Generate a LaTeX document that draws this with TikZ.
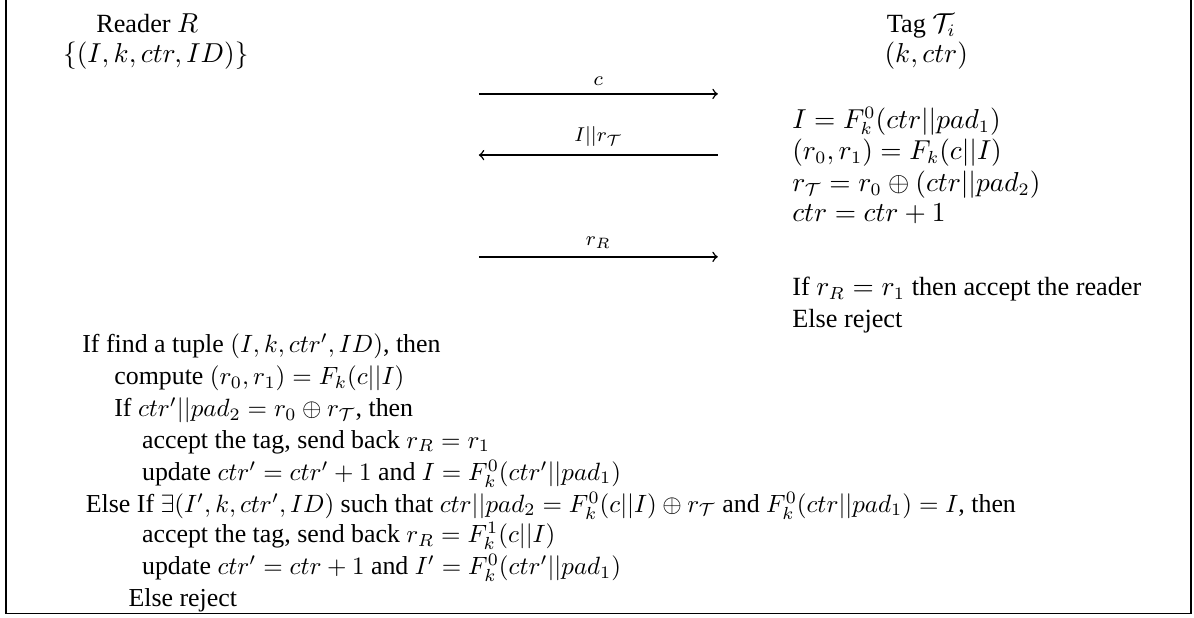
\documentclass[tikz,border=0pt]{standalone}
\usepackage[no-math]{fontspec}
\setmainfont{Liberation Serif}
\begin{document}
\begin{tikzpicture}[
        line/.style={inner sep=0pt, anchor=base west, font=\fontsize{10.5}{12.6}\selectfont},
        rline/.style={line, font=\fontsize{10.35}{12.4}\selectfont},
        head/.style={inner sep=0pt, anchor=base, font=\fontsize{10.5}{12.6}\selectfont},
        msg/.style={->, semithick},
        label/.style={above=2pt, inner sep=1pt, font=\fontsize{8.5}{10}\selectfont}
    ]
        \useasboundingbox (0,0) rectangle (16.783,-8.673);
        % Frame (open at the top)
        \draw[line width=0.6pt] (0.085,0) -- (0.085,-8.62) -- (16.74,-8.62) -- (16.74,0);

        % Reader side
        \node[head] (reader) at (2.07,-0.45) {Reader $R$};
        \node[head] (readerdb) at (2.19,-0.885) {$\{(I,k,ctr,ID)\}$};

        % Tag side
        \node[head] (tag) at (12.95,-0.45) {Tag $\mathcal{T}_i$};
        \node[head] (tagkey) at (13.02,-0.885) {$(k,ctr)$};

        \node[line] (tagI) at (11.13,-1.80) {$I=F_k^0(ctr||pad_1)$};
        \node[line] (tagr) at (11.13,-2.235) {$(r_0,r_1)=F_k(c||I)$};
        \node[line] (tagrt) at (11.13,-2.685) {$r_{\mathcal{T}}=r_0\oplus(ctr||pad_2)$};
        \node[line] (tagctr) at (11.13,-3.12) {$ctr=ctr+1$};

        \node[line] (tagcheck) at (11.13,-4.15) {If $r_R=r_1$ then accept the reader};
        \node[line] (tagrej) at (11.13,-4.60) {Else reject};

        % Messages
        \coordinate (cfrom) at (6.73,-1.32);
        \coordinate (cto) at (10.09,-1.32);
        \coordinate (rtfrom) at (10.09,-2.18);
        \coordinate (rtto) at (6.73,-2.18);
        \coordinate (rrfrom) at (6.73,-3.61);
        \coordinate (rrto) at (10.09,-3.61);
        \draw[msg] (cfrom) -- node[label] {$c$} (cto);
        \draw[msg] (rtfrom) -- node[label] {$I||r_{\mathcal{T}}$} (rtto);
        \draw[msg] (rrfrom) -- node[label] {$r_R$} (rrto);

        % Reader verification
        \node[rline] (find) at (1.15,-4.96) {If find a tuple $(I,k,ctr',ID)$, then};
        \node[rline] (compute) at (1.60,-5.41) {compute $(r_0,r_1)=F_k(c||I)$};
        \node[rline] (ifctr) at (1.60,-5.86) {If $ctr'||pad_2=r_0\oplus r_{\mathcal{T}}$, then};
        \node[rline] (acc1) at (1.99,-6.30) {accept the tag, send back $r_R=r_1$};
        \node[rline] (upd1) at (1.99,-6.75) {update $ctr'=ctr'+1$ and $I=F_k^0(ctr'||pad_1)$};
        \node[rline] (elseif) at (1.20,-7.20) {Else If $\exists(I',k,ctr',ID)$ such that $ctr||pad_2=F_k^0(c||I)\oplus r_{\mathcal{T}}$ and $F_k^0(ctr||pad_1)=I$, then};
        \node[rline] (acc2) at (1.99,-7.63) {accept the tag, send back $r_R=F_k^1(c||I)$};
        \node[rline] (upd2) at (1.99,-8.08) {update $ctr'=ctr+1$ and $I'=F_k^0(ctr'||pad_1)$};
        \node[rline] (rej) at (1.80,-8.53) {Else reject};

    \end{tikzpicture}
\end{document}
